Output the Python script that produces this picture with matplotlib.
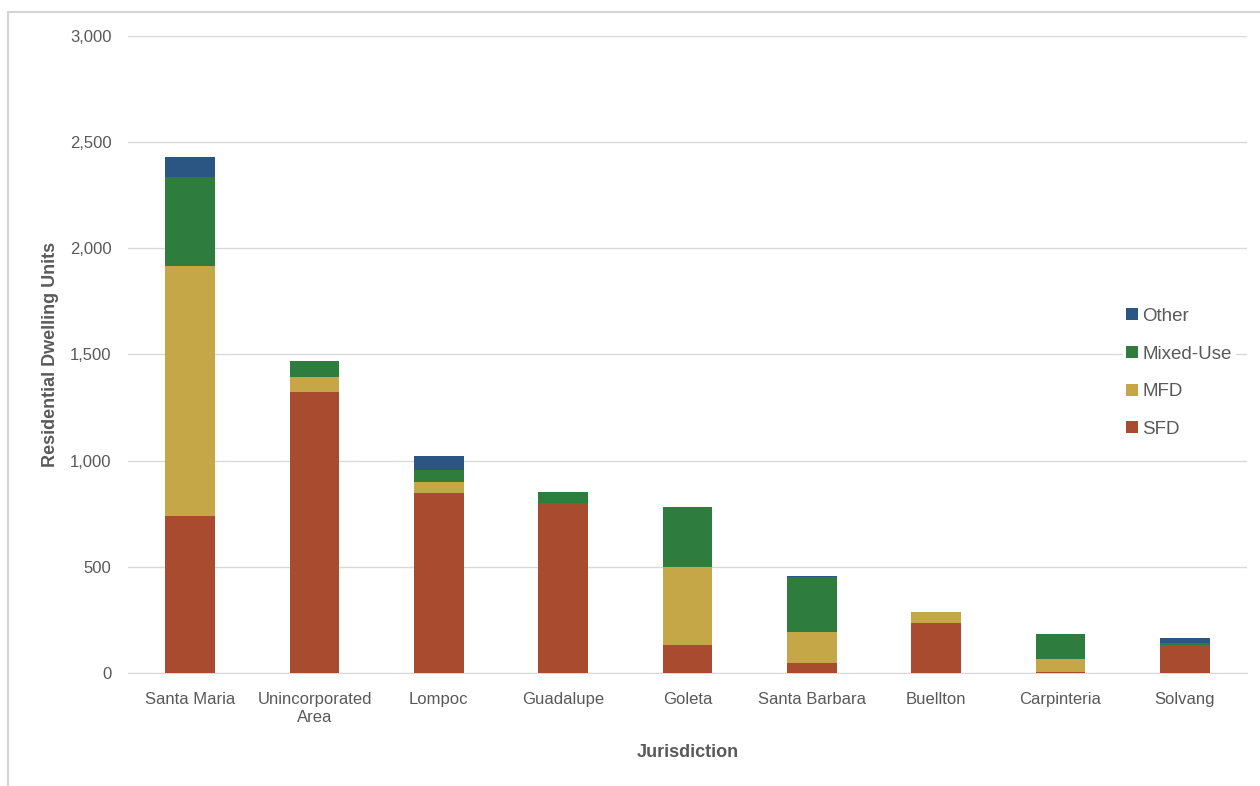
import matplotlib.pyplot as plt
import numpy as np
from matplotlib.patches import Rectangle

plt.rcParams['font.family'] = ['Liberation Sans', 'DejaVu Sans']

# jurisdictions and units by housing type
places = ['Santa Maria', 'Unincorporated\nArea', 'Lompoc', 'Guadalupe', 'Goleta',
          'Santa Barbara', 'Buellton', 'Carpinteria', 'Solvang']
sfd = [740, 1325, 848, 800, 130, 45, 235, 4, 130]
mfd = [1175, 70, 52, 0, 370, 147, 52, 62, 0]
mixed = [420, 75, 58, 50, 283, 260, 0, 116, 10]
other = [95, 0, 66, 0, 0, 6, 0, 0, 25]

series = [('SFD', sfd, '#A84B2F'), ('MFD', mfd, '#C6A747'),
          ('Mixed-Use', mixed, '#2E7D3E'), ('Other', other, '#2B5583')]

fig = plt.figure(figsize=(12.6, 7.86), dpi=100)
ax = fig.add_axes([0.1016, 0.1438, 0.8881, 0.8104])

# chart area border (Excel style)
fig.patches.append(Rectangle((8/1260, -0.1), 1.2, 1.1 - 12/786, transform=fig.transFigure,
                             fill=False, edgecolor='#d4d4d4', linewidth=1.5))

x = np.arange(len(places))
bottom = np.zeros(len(places))
handles = []
for name, vals, col in series:
    b = ax.bar(x, vals, 0.4, bottom=bottom, color=col, label=name, zorder=3)
    handles.append(b)
    bottom += np.array(vals)

ax.set_xlim(-0.5, len(places) - 0.5)
ax.set_ylim(0, 3000)
ax.set_yticks(np.arange(0, 3001, 500))
ax.set_yticklabels([f'{v:,}' for v in range(0, 3001, 500)])
ax.set_xticks(x)
ax.set_xticklabels(places)
ax.grid(axis='y', color='#d9d9d9', linewidth=1, zorder=0)
for s in ['top', 'right', 'left']:
    ax.spines[s].set_visible(False)
ax.spines['bottom'].set_color('#d9d9d9')
ax.tick_params(axis='both', length=0, colors='#595959', labelsize=12)
ax.tick_params(axis='x', pad=14)
ax.tick_params(axis='y', pad=12)

ax.set_ylabel('Residential Dwelling Units', fontsize=13, fontweight='bold', color='#595959', labelpad=8)
ax.set_xlabel('Jurisdiction', fontsize=13, fontweight='bold', color='#595959', labelpad=14)

leg = ax.legend(handles[::-1], [s[0] for s in series][::-1], loc='center left',
                bbox_to_anchor=(0.8805, 0.471), frameon=True, fontsize=13.5,
                handlelength=0.6, handleheight=0.6, handletextpad=0.25,
                labelspacing=1.1, borderpad=0.2)
leg.get_frame().set_edgecolor('white')
leg.get_frame().set_facecolor('white')
leg.get_frame().set_alpha(1)
for t in leg.get_texts():
    t.set_color('#595959')

fig.savefig('out.png', dpi=100)
